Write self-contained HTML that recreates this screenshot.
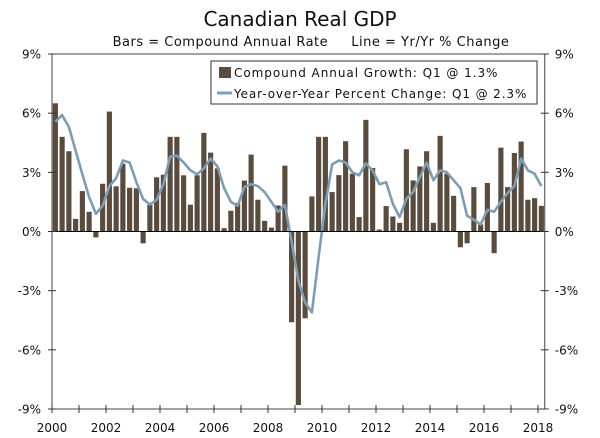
<!DOCTYPE html>
<html><head><meta charset="utf-8"><style>
body{margin:0;background:#fff;}
svg{display:block;font-family:"DejaVu Sans","Liberation Sans",sans-serif;}
</style></head><body>
<svg id="chart" width="600" height="438">
<text x="300" y="26" text-anchor="middle" font-size="20" fill="#111">Canadian Real GDP</text>
<text x="311" y="46" text-anchor="middle" font-size="13" letter-spacing="0.5" fill="#111" xml:space="preserve">Bars = Compound Annual Rate     Line = Yr/Yr % Change</text>
<g id="grid"></g><g id="bars"></g><g id="line"></g><g id="axes"></g>
<g>
<rect x="211" y="61" width="326" height="43" fill="#fff" stroke="#333" stroke-width="1"/>
<rect x="219" y="67" width="12" height="11" fill="#5a4b3f"/>
<text x="234" y="77" font-size="12" letter-spacing="0.95" fill="#111">Compound Annual Growth: Q1 @ 1.3%</text>
<line x1="217" y1="93" x2="232" y2="93" stroke="#7f9db0" stroke-width="3"/>
<text x="234" y="98" font-size="12" letter-spacing="0.9" fill="#111">Year-over-Year Percent Change: Q1 @ 2.3%</text>
</g>
</svg>
<script>
const bars=[6.5,4.8,4.07,0.64,2.05,1.0,-0.3,2.42,6.08,2.29,3.44,2.22,2.19,-0.6,1.36,2.75,2.88,4.8,4.8,2.85,1.36,2.85,5.0,4.0,3.2,0.17,1.05,1.44,2.58,3.9,1.61,0.54,0.2,1.32,3.34,-4.6,-8.8,-4.4,1.78,4.8,4.8,2.0,2.86,4.58,2.93,0.73,5.66,3.22,0.1,1.29,0.76,0.44,4.17,2.59,3.3,4.07,0.44,4.85,2.93,1.81,-0.8,-0.6,2.25,0.36,2.46,-1.1,4.25,2.25,3.98,4.56,1.61,1.69,1.3];
const yoy=[5.56,5.9,5.3,4.1,2.9,1.75,0.9,1.3,2.3,2.7,3.6,3.5,2.5,1.65,1.37,1.6,2.4,3.8,3.85,3.5,3.1,2.9,3.2,3.7,3.3,2.2,1.5,1.3,2.25,2.4,2.3,2.0,1.5,1.0,1.35,-0.5,-2.5,-3.6,-4.1,-1.3,1.4,3.4,3.6,3.5,3.0,2.85,3.45,3.1,2.4,2.5,1.4,0.73,1.66,2.0,2.76,3.5,2.6,3.1,3.0,2.6,2.2,0.8,0.6,0.35,1.1,1.0,1.5,1.95,2.3,3.7,3.1,2.93,2.3];
const yTicks=[9,6,3,0,-3,-6,-9];
const xYears=[2000,2002,2004,2006,2008,2010,2012,2014,2016,2018];
const NS='http://www.w3.org/2000/svg';
const L=52,R=544.75,T=54,B=409,slot=(R-L)/73;
const y=v=>T+(9-v)*(B-T)/18;
const x=i=>L+i*slot;
const yr=Y=>L+(Y-2000)*4*slot;
function mk(t,a,p){const e=document.createElementNS(NS,t);for(const k in a)e.setAttribute(k,a[k]);p.appendChild(e);return e;}
const gB=document.getElementById('bars'),gL=document.getElementById('line'),gA=document.getElementById('axes');
bars.forEach((v,i)=>{
 const r=mk('rect',{x:x(i)+0.8,y:Math.min(y(v),y(0)),width:slot-1.6,height:Math.abs(y(v)-y(0)),fill:'#5a4b3f'},gB);
 
 
});
const pts=yoy.map((v,i)=>(x(i)+slot/2).toFixed(1)+','+y(v).toFixed(1)).join(' ');
const pl=mk('polyline',{points:pts,fill:'none',stroke:'#7f9db0','stroke-width':2.6,'stroke-linejoin':'round'},gL);


mk('rect',{x:L,y:T,width:R-L,height:B-T,fill:'none',stroke:'#444','stroke-width':1},gA);
mk('line',{x1:L,y1:y(0),x2:R,y2:y(0),stroke:'#000','stroke-width':1},gA);
yTicks.forEach(v=>{
 mk('line',{x1:L-4,y1:y(v),x2:L+4,y2:y(v),stroke:'#333'},gA);
 mk('line',{x1:R-4,y1:y(v),x2:R+4,y2:y(v),stroke:'#333'},gA);
 const t1=mk('text',{x:L-11,y:y(v)+4.5,'text-anchor':'end','font-size':12,fill:'#111'},gA);t1.textContent=v+'%';
 
 
 const t2=mk('text',{x:R+10,y:y(v)+4.5,'text-anchor':'start','font-size':12,fill:'#111'},gA);t2.textContent=v+'%';
 
 
});
for(let Y=2000;Y<=2018;Y++){mk('line',{x1:yr(Y),y1:B-4,x2:yr(Y),y2:B+4,stroke:'#333'},gA);}
xYears.forEach(Y=>{
 const t=mk('text',{x:yr(Y),y:432,'text-anchor':'middle','font-size':12,fill:'#111'},gA);t.textContent=Y;
 
 
});
</script>
</body></html>
